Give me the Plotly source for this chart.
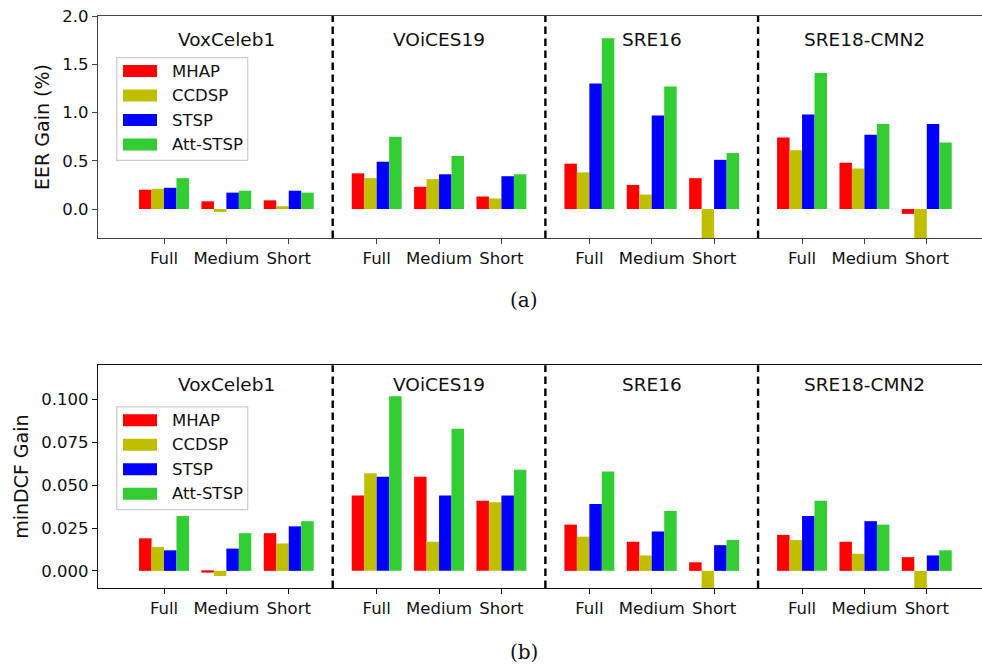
import plotly.graph_objects as go

# ---- data -----------------------------------------------------------------
datasets = ["VoxCeleb1", "VOiCES19", "SRE16", "SRE18-CMN2"]
conditions = ["Full", "Medium", "Short"]
methods = ["MHAP", "CCDSP", "STSP", "Att-STSP"]
colors = ["#ff0000", "#bfbf00", "#0000ff", "#32cd32"]

# EER gain (%), ordered dataset by dataset, Full / Medium / Short
eer_mhap = [0.20, 0.08, 0.09, 0.37, 0.23, 0.13, 0.47, 0.25, 0.32, 0.74, 0.48, -0.05]
eer_ccdsp = [0.21, -0.03, 0.03, 0.32, 0.31, 0.11, 0.38, 0.15, -0.45, 0.61, 0.42, -0.40]
eer_stsp = [0.22, 0.17, 0.19, 0.49, 0.36, 0.34, 1.30, 0.97, 0.51, 0.98, 0.77, 0.88]
eer_att = [0.32, 0.19, 0.17, 0.75, 0.55, 0.36, 1.77, 1.27, 0.58, 1.41, 0.88, 0.69]

# minDCF gain
dcf_mhap = [0.019, -0.001, 0.022, 0.044, 0.055, 0.041, 0.027, 0.017, 0.005, 0.021, 0.017, 0.008]
dcf_ccdsp = [0.014, -0.003, 0.016, 0.057, 0.017, 0.040, 0.020, 0.009, -0.015, 0.018, 0.010, -0.012]
dcf_stsp = [0.012, 0.013, 0.026, 0.055, 0.044, 0.044, 0.039, 0.023, 0.015, 0.032, 0.029, 0.009]
dcf_att = [0.032, 0.022, 0.029, 0.102, 0.083, 0.059, 0.058, 0.035, 0.018, 0.041, 0.027, 0.012]

eer_series = [eer_mhap, eer_ccdsp, eer_stsp, eer_att]
dcf_series = [dcf_mhap, dcf_ccdsp, dcf_stsp, dcf_att]

# ---- geometry -------------------------------------------------------------
W, H = 982, 667
ML, MR, MT, MB = 98, 0, 16, 79
PW, PH = W - ML - MR, H - MT - MB

GROUP_STEP = 3.41
BAR_W = 0.2
positions = [d * GROUP_STEP + k for d in range(len(datasets)) for k in range(len(conditions))]
tick_text = [c for _ in datasets for c in conditions]
separators = [d * GROUP_STEP - (GROUP_STEP - 2) / 2 for d in range(1, len(datasets))]
title_x = [d * GROUP_STEP + 1 for d in range(len(datasets))]

# plot area pixel extents
X_LEFT, X_RIGHT = 98, 982
UNIT = 62.37
x_range = [-(164 - X_LEFT) / UNIT, -(164 - X_LEFT) / UNIT + (X_RIGHT - X_LEFT) / UNIT]

top_px = (16, 238)
bot_px = (365.3, 588)


def paper_y(py):
    return 1 - (py - MT) / PH


dom_top = [paper_y(top_px[1]), paper_y(top_px[0])]
dom_bot = [max(0, paper_y(bot_px[1])), paper_y(bot_px[0])]

FONT = "DejaVu Sans"

fig = go.Figure()

for idx, (series, xa, ya) in enumerate([(eer_series, "x", "y"), (dcf_series, "x2", "y2")]):
    for i, (name, vals) in enumerate(zip(methods, series)):
        fig.add_trace(go.Bar(
            x=positions, y=vals, name=name,
            width=BAR_W, offset=-2 * BAR_W + i * BAR_W,
            marker=dict(color=colors[i], line=dict(width=0)),
            xaxis=xa, yaxis=ya, showlegend=False,
        ))

axis_common = dict(showgrid=False, zeroline=False, ticks="outside", ticklen=5,
                   tickwidth=1, tickfont=dict(family=FONT, size=16.5, color="#111"))

fig.update_layout(
    width=W, height=H,
    margin=dict(l=ML, r=MR, t=MT, b=MB),
    paper_bgcolor="white", plot_bgcolor="white",
    barmode="overlay",
    font=dict(family=FONT, color="#111"),
    xaxis=dict(domain=[0, 1], range=x_range, anchor="y", tickvals=positions, ticktext=tick_text,
               showline=True, mirror=True, linecolor="#444", linewidth=1.3, tickcolor="#444",
               **axis_common),
    yaxis=dict(domain=dom_top, range=[-0.3, 2.0], anchor="x", tickvals=[0, 0.5, 1.0, 1.5, 2.0],
               tickformat=".1f", showline=True, linecolor="#444", linewidth=1.3, tickcolor="#444",
               title=dict(text="EER Gain (%)", font=dict(family=FONT, size=19), standoff=7),
               **axis_common),
    xaxis2=dict(domain=[0, 1], range=x_range, anchor="y2", tickvals=positions, ticktext=tick_text,
                showline=True, mirror=True, linecolor="#111", linewidth=1.3, tickcolor="#111",
                **axis_common),
    yaxis2=dict(domain=dom_bot, range=[-0.01, 0.12], anchor="x2",
                tickvals=[0, 0.025, 0.05, 0.075, 0.1], tickformat=".3f",
                showline=True, linecolor="#111", linewidth=1.3, tickcolor="#111",
                title=dict(text="minDCF Gain", font=dict(family=FONT, size=19), standoff=7),
                **axis_common),
)

shapes = []
annotations = []

# dataset separators and panel titles
for xa, ya, ty in [("x", "y", 1.76), ("x2", "y2", 0.1086)]:
    for sx in separators:
        shapes.append(dict(type="line", xref=xa, yref=f"{ya} domain", x0=sx, x1=sx, y0=0, y1=1,
                           line=dict(color="black", width=2.4, dash="7.5px,4.5px")))
    for tx, name in zip(title_x, datasets):
        annotations.append(dict(text=name, x=tx, y=ty, xref=xa, yref=ya, showarrow=False,
                                xanchor="center", yanchor="middle",
                                font=dict(family=FONT, size=18.5, color="#111")))

# legend boxes drawn inside each panel
for ya, (p_top, p_bot) in [("y", top_px), ("y2", bot_px)]:
    ph = p_bot - p_top

    def fx(px):
        return (px - X_LEFT) / (X_RIGHT - X_LEFT)

    def fy(off):
        return 1 - off / ph

    xd = "x domain" if ya == "y" else "x2 domain"
    yd = f"{ya} domain"
    shapes.append(dict(type="rect", xref=xd, yref=yd, x0=fx(116.7), x1=fx(247.7),
                       y0=fy(41.6), y1=fy(144.3), fillcolor="rgba(255,255,255,0.8)",
                       line=dict(color="#cccccc", width=1.2), layer="above"))
    for i, (name, col) in enumerate(zip(methods, colors)):
        cy = 55 + i * 24.5
        shapes.append(dict(type="rect", xref=xd, yref=yd, x0=fx(123), x1=fx(157),
                           y0=fy(cy - 6), y1=fy(cy + 6), fillcolor=col, line=dict(width=0),
                           layer="above"))
        annotations.append(dict(text=name, x=fx(170), y=fy(cy), xref=xd, yref=yd,
                                showarrow=False, xanchor="left", yanchor="middle",
                                font=dict(family=FONT, size=16.5, color="#111")))

# sub-figure captions
for cap, py in [("(a)", 300), ("(b)", 652)]:
    annotations.append(dict(text=cap, x=(524 - ML) / PW, y=paper_y(py), xref="paper", yref="paper",
                            showarrow=False, xanchor="center", yanchor="middle",
                            font=dict(family="DejaVu Serif", size=20, color="#111")))

fig.update_layout(shapes=shapes, annotations=annotations)

fig.write_html("out.html")
